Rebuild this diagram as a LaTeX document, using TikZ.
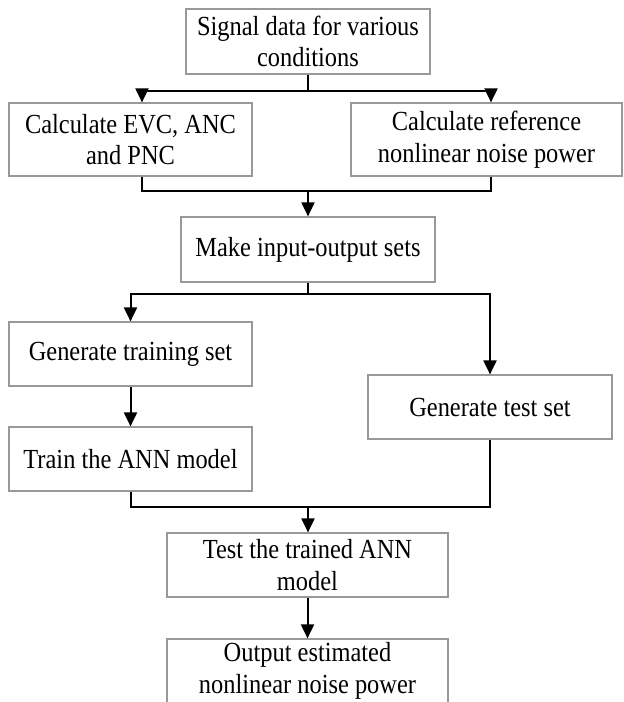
\documentclass[tikz,border=0pt]{standalone}
\usepackage{fontspec}
\setmainfont{Liberation Serif}[FakeStretch=0.885]
\usetikzlibrary{arrows.meta,positioning}

\begin{document}
\begin{tikzpicture}[x=1pt,y=-1pt,>={Triangle[length=14pt,width=13pt]},
   box/.style={draw=black!40,line width=1.2pt,inner sep=0pt,align=center,
      minimum width=244pt,minimum height=64pt,
      font=\fontsize{27.6}{31.5}\selectfont},
   link/.style={line width=2pt}]
   \useasboundingbox (0,0) rectangle (624,702);
   \node[box,minimum height=65pt] (sig) at (308,41.5) {Signal data for various\\conditions};
   \node[box,minimum width=243pt,minimum height=73pt] (calc_1) at (130.5,139.5) {Calculate EVC, ANC\\and PNC};
   \node[box,minimum width=271pt,minimum height=73pt] (calc_2) at (486.5,139.5) {Calculate reference\\nonlinear noise power};
   \node[box,minimum width=254pt,minimum height=65pt] (sets) at (308,249.5) {Make input-output sets};
   \node[box,minimum width=243pt] (gen_1) at (130.5,354) {Generate training set};
   \node[box] (gen_2) at (490,407) {Generate test set};
   \node[box,minimum width=243pt] (train) at (130.5,459) {Train the ANN model};
   \node[box,minimum width=281pt] (check) at (307.5,565) {Test the trained ANN\\model};
   \node[box,minimum width=281pt] (out) at (307.5,671) {Output estimated\\nonlinear noise power};
   \coordinate (x_l) at (142,0);
   \coordinate (x_r) at (491,0);
   \coordinate (j_1) at (308,91);
   \coordinate (j_2) at (308,191);
   \coordinate (j_3) at (308,294);
   \coordinate (j_4) at (308,507);
   % branches
   \draw[link] (sig.south) -- (j_1);
   \draw[link,->] (j_1) -| (x_l |- calc_1.north);
   \draw[link,->] (j_1) -| (x_r |- calc_2.north);
   \draw[link] (x_l |- calc_1.south) |- (j_2) -| (x_r |- calc_2.south);
   \draw[link,->] (j_2) -- (sets.north);
   \draw[link] (sets.south) -- (j_3);
   \draw[link,->] (j_3) -| (gen_1.north);
   \draw[link,->] (j_3) -| (gen_2.north);
   \draw[link,->] (gen_1) -- (train);
   \draw[link] (train.south) |- (j_4) -| (gen_2.south);
   \draw[link,->] (j_4) -- (j_4 |- check.north);
   \draw[link,->] (check) -- (out);
\end{tikzpicture}
\end{document}
